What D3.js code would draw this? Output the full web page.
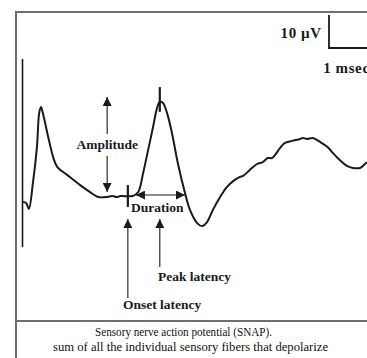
<!DOCTYPE html>
<html>
<head>
<meta charset="utf-8">
<script src="https://cdn.jsdelivr.net/npm/d3@7"></script>
<style>
body { margin: 0; background: #fff; }
svg { display: block; }
</style>
</head>
<body>
<svg id="chart" width="367" height="358"></svg>
<script>
// SNAP trace: time in msec, potential in microvolts (baseline = 0)
var traceTime = [0, 0.07, 0.13, 0.22, 0.31, 0.36, 0.40, 0.44, 0.56, 0.67, 0.76, 0.98, 1.27, 1.49, 1.67, 1.87, 1.98, 2.09,
    2.16, 2.44, 2.56, 2.67, 2.78, 2.89, 2.98, 3.04, 3.11, 3.20, 3.31, 3.44, 3.60, 3.71, 3.87, 3.98, 4.09, 4.22, 4.38,
    4.53, 4.67, 4.82, 4.89, 5.04, 5.20, 5.33, 5.44, 5.53, 5.60, 5.71, 5.82, 5.98, 6.16, 6.22, 6.31, 6.44, 6.60, 6.76,
    6.89, 7.04, 7.20, 7.33, 7.49, 7.60, 7.64];
var traceVolt = [-1.5, -1.8, -3.6, 4.2, 15.2, 25.5, 27.3, 25.5, 18.2, 12.1, 9.1, 6.7, 3.6, 1.5, 0, 0, 0.3, 0,
    0.3, 0.3, 1.5, 7.3, 14.2, 21.2, 27.0, 28.8, 28.5, 25.5, 19.4, 10.3, 1.2, -3.9, -7.9, -8.8, -7.6, -3.9, 0,
    3.0, 4.8, 6.1, 6.4, 8.2, 10.0, 10.6, 11.8, 11.8, 12.7, 14.8, 16.4, 17.0, 17.6, 17.9, 17.6, 17.9, 16.7, 15.2,
    13.3, 11.2, 9.4, 8.8, 8.8, 10.0, 10.6];

// stimulus artifact at t = 0
var artifactVolt = [41.8, -15.2];

// measurements
var onsetLatency = 2.33;   // msec
var peakLatency = 3.04;    // msec
var durationEnd = 3.60;    // msec
var amplitudeAt = 1.87;    // msec, where the amplitude arrow sits

// scale bar
var scaleBarVolt = 10;     // µV
var scaleBarTime = 1;      // msec
var scaleBarLabels = ["10 \u00b5V", "1 msec"];

var captionLines = ["Sensory nerve action potential (SNAP).",
    "sum of all the individual sensory fibers that depolarize"];

var svg = d3.select("#chart");
var ink = "#1a1a1a";

// 1 msec = 45 px, 10 µV = 33 px
var x = d3.scaleLinear().domain([0, 1]).range([23, 68]);
var y = d3.scaleLinear().domain([0, 10]).range([197, 164]);

var defs = svg.append("defs");
defs.append("marker")
    .attr("id", "head")
    .attr("viewBox", "0 0 10 10")
    .attr("refX", 10).attr("refY", 5)
    .attr("markerUnits", "userSpaceOnUse")
    .attr("markerWidth", 11).attr("markerHeight", 9)
    .attr("orient", "auto-start-reverse")
  .append("path")
    .attr("d", "M0,0L10,5L0,10Z")
    .attr("fill", ink);

// frame
var frame = svg.append("g").attr("stroke", "#6e6e6e").attr("stroke-width", 2).attr("fill", "none");
frame.append("line").attr("x1", 16).attr("x2", 367).attr("y1", 12).attr("y2", 12);
frame.append("line").attr("x1", 16).attr("x2", 16).attr("y1", 11).attr("y2", 358);
frame.append("line").attr("x1", 16).attr("x2", 367).attr("y1", 321).attr("y2", 321);

// artifact
svg.append("line")
    .attr("x1", x(0) - 0.5).attr("x2", x(0) - 0.5)
    .attr("y1", y(artifactVolt[0])).attr("y2", y(artifactVolt[1]))
    .attr("stroke", ink).attr("stroke-width", 1.6);

// trace
var line = d3.line()
    .x(function (d, i) { return x(traceTime[i]); })
    .y(function (d) { return y(d); })
    .curve(d3.curveCatmullRom.alpha(0.5));

svg.append("path")
    .datum(traceVolt)
    .attr("d", line)
    .attr("fill", "none")
    .attr("stroke", ink)
    .attr("stroke-width", 2)
    .attr("stroke-linejoin", "round");

function arrow(x1, y1, x2, y2, both) {
    var l = svg.append("line")
        .attr("x1", x1).attr("y1", y1).attr("x2", x2).attr("y2", y2)
        .attr("stroke", ink).attr("stroke-width", 1.1)
        .attr("marker-end", "url(#head)");
    if (both) l.attr("marker-start", "url(#head)");
    return l;
}
function tick(t, v1, v2) {
    svg.append("line")
        .attr("x1", x(t)).attr("x2", x(t))
        .attr("y1", y(v1)).attr("y2", y(v2))
        .attr("stroke", ink).attr("stroke-width", 2.2);
}
function label(txt, px, py, anchor) {
    return svg.append("text")
        .attr("x", px).attr("y", py)
        .attr("text-anchor", anchor || "start")
        .attr("font-family", "'Liberation Serif', 'Times New Roman', serif")
        .attr("font-weight", "bold")
        .attr("font-size", 13.5)
        .attr("fill", ink)
        .text(txt);
}

// onset and peak ticks on the trace
tick(onsetLatency, -3.0, 3.6);
tick(peakLatency, 25.8, 33.3);

// amplitude
arrow(x(amplitudeAt), y(19.1), x(amplitudeAt), y(30.3));
arrow(x(amplitudeAt), y(12.4), x(amplitudeAt), y(1.5));
label("Amplitude", x(amplitudeAt), y(15.8) + 4.5, "middle");

// duration
arrow(x(2.51), y(0.6), x(durationEnd), y(0.6), true);
label("Duration", x(2.40), y(-4.5));

// latencies
arrow(x(peakLatency), y(-21.2), x(peakLatency), y(-6.7));
label("Peak latency", x(3.0), y(-25.5));
arrow(x(onsetLatency), y(-30.6), x(onsetLatency), y(-6.7));
label("Onset latency", x(2.22), y(-33.9));

// scale bar
svg.append("path")
    .attr("d", "M" + x(6.8) + "," + y(45.15 + scaleBarVolt) +
        "V" + y(45.15) + "H" + x(6.8 + scaleBarTime))
    .attr("fill", "none").attr("stroke", ink).attr("stroke-width", 1.8);
label(scaleBarLabels[0], x(6.64), y(48.2), "end").attr("font-size", 15).attr("letter-spacing", 0.6);
label(scaleBarLabels[1], x(6.67), y(37.6)).attr("font-size", 15).attr("letter-spacing", 0.6);

// caption
var capW = [177, 275];
svg.selectAll("text.cap")
    .data(captionLines)
    .enter().append("text")
    .attr("class", "cap")
    .attr("x", function (d, i) { return i === 0 ? 95 : 53; })
    .attr("y", function (d, i) { return i === 0 ? 336 : 351; })
    .attr("font-family", "'Liberation Serif', 'Times New Roman', serif")
    .attr("font-size", 12.5)
    .attr("fill", "#111")
    .attr("textLength", function (d, i) { return capW[i]; })
    .attr("lengthAdjust", "spacingAndGlyphs")
    .text(function (d) { return d; });
</script>
</body>
</html>
